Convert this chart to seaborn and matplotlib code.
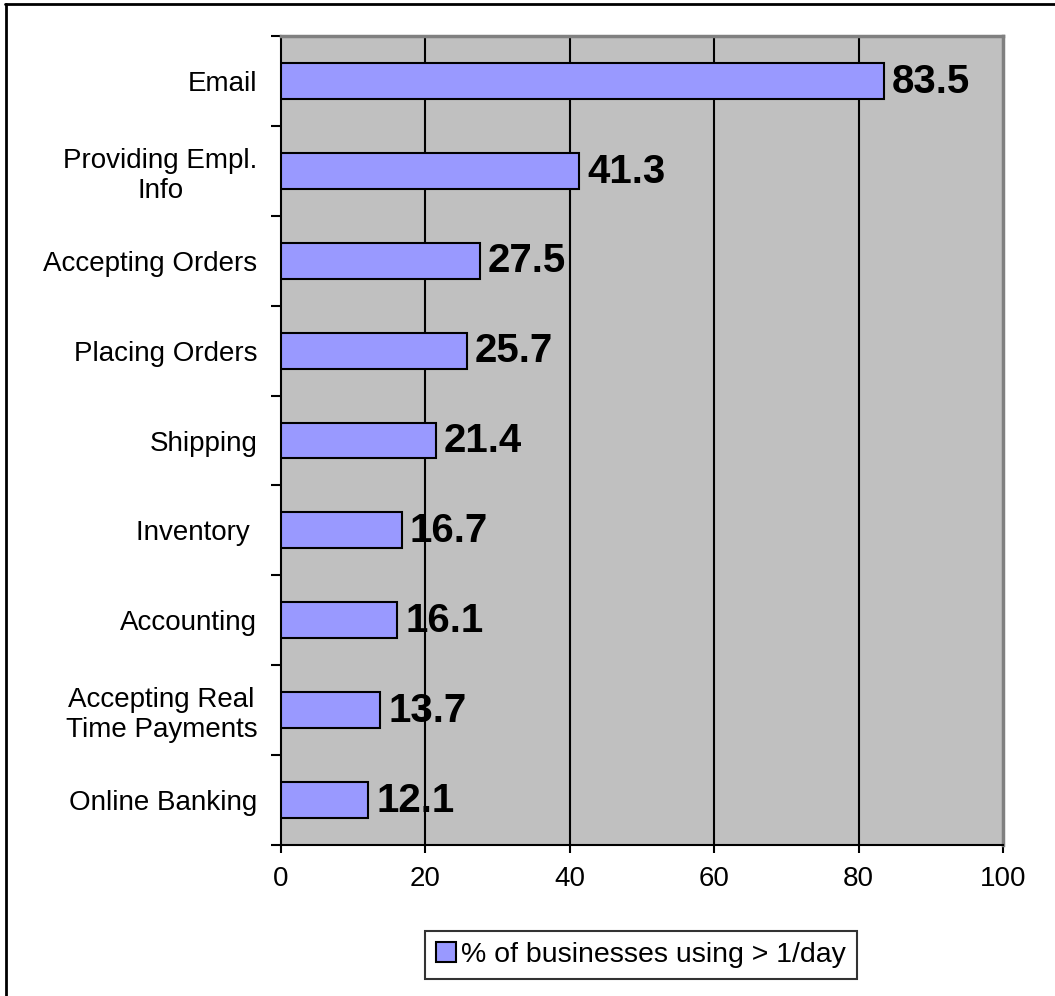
import matplotlib
matplotlib.use("Agg")
import matplotlib.pyplot as plt
from matplotlib.patches import Patch
from matplotlib.lines import Line2D
import seaborn as sns
import pandas as pd

categories = [
    "Email",
    "Providing Empl.\nInfo",
    "Accepting Orders",
    "Placing Orders",
    "Shipping",
    "Inventory ",
    "Accounting",
    "Accepting Real\nTime Payments",
    "Online Banking",
]
values = [83.5, 41.3, 27.5, 25.7, 21.4, 16.7, 16.1, 13.7, 12.1]
series_name = "% of businesses using > 1/day"
x_ticks = [0, 20, 40, 60, 80, 100]

df = pd.DataFrame({"category": categories, "value": values})

sns.set_theme(style="white")
plt.rcParams["font.family"] = ["Liberation Sans", "DejaVu Sans"]
plt.rcParams["text.color"] = "black"

fig = plt.figure(figsize=(10.55, 9.96), dpi=100)
ax = fig.add_axes([281 / 1055, 1 - 845 / 996, (1003 - 281) / 1055, (845 - 36) / 996])
ax.set_facecolor("#C0C0C0")

sns.barplot(data=df, x="value", y="category", orient="h", color="#9999FF",
            saturation=1, width=0.4, edgecolor="black", linewidth=1.5,
            ax=ax, zorder=3)

ax.set_xlim(0, 100)
ax.set_ylim(len(categories) - 0.5, -0.5)
ax.set_xlabel("")
ax.set_ylabel("")

# vertical gridlines
ax.set_xticks(x_ticks)
ax.set_xticklabels([str(t) for t in x_ticks], fontsize=20, color="black")
for t in x_ticks[1:-1]:
    ax.axvline(t, color="black", linewidth=1.5, zorder=1)

# category ticks at boundaries, labels centered on bars
n = len(categories)
ax.set_yticks([i - 0.5 for i in range(n + 1)])
ax.set_yticklabels([""] * (n + 1))
ax.set_yticks(list(range(n)), minor=True)
ax.set_yticklabels(categories, minor=True, fontsize=20, color="black",
                   ha="right", multialignment="center")
ax.tick_params(axis="y", which="major", left=True, length=7, width=1.5,
               color="black", direction="out")
ax.tick_params(axis="y", which="minor", left=True, length=0, pad=17)
ax.tick_params(axis="x", which="major", bottom=True, length=6, width=1.5,
               color="black", direction="out", pad=9)

for side in ["left", "bottom"]:
    ax.spines[side].set_color("black")
    ax.spines[side].set_linewidth(1.5)
for side in ["top", "right"]:
    ax.spines[side].set_color("#808080")
    ax.spines[side].set_linewidth(2.5)

for i, v in enumerate(values):
    ax.annotate(f"{v}", xy=(v, i), xytext=(6, -0.5), textcoords="offset points",
                ha="left", va="center", fontsize=29, fontweight="bold",
                color="black", zorder=5)

handle = Patch(facecolor="#9999FF", edgecolor="black", linewidth=1.5)
leg = fig.legend([handle], [series_name], loc="center",
                 bbox_to_anchor=(641 / 1055, 1 - 955 / 996),
                 fontsize=20.5, frameon=True, fancybox=False,
                 handlelength=0.7, handleheight=0.7, handletextpad=0.2,
                 borderpad=0.38, borderaxespad=0)
leg.get_frame().set_edgecolor("black")
leg.get_frame().set_linewidth(1.5)
for txt in leg.get_texts():
    txt.set_color("black")

# outer frame along the top and left edges
fig.add_artist(Line2D([5 / 1055, 1], [1 - 4 / 996, 1 - 4 / 996],
                      transform=fig.transFigure, color="black", linewidth=2))
fig.add_artist(Line2D([6 / 1055, 6 / 1055], [0, 1 - 4 / 996],
                      transform=fig.transFigure, color="black", linewidth=2))

fig.savefig("out.png", dpi=100, facecolor="white")
